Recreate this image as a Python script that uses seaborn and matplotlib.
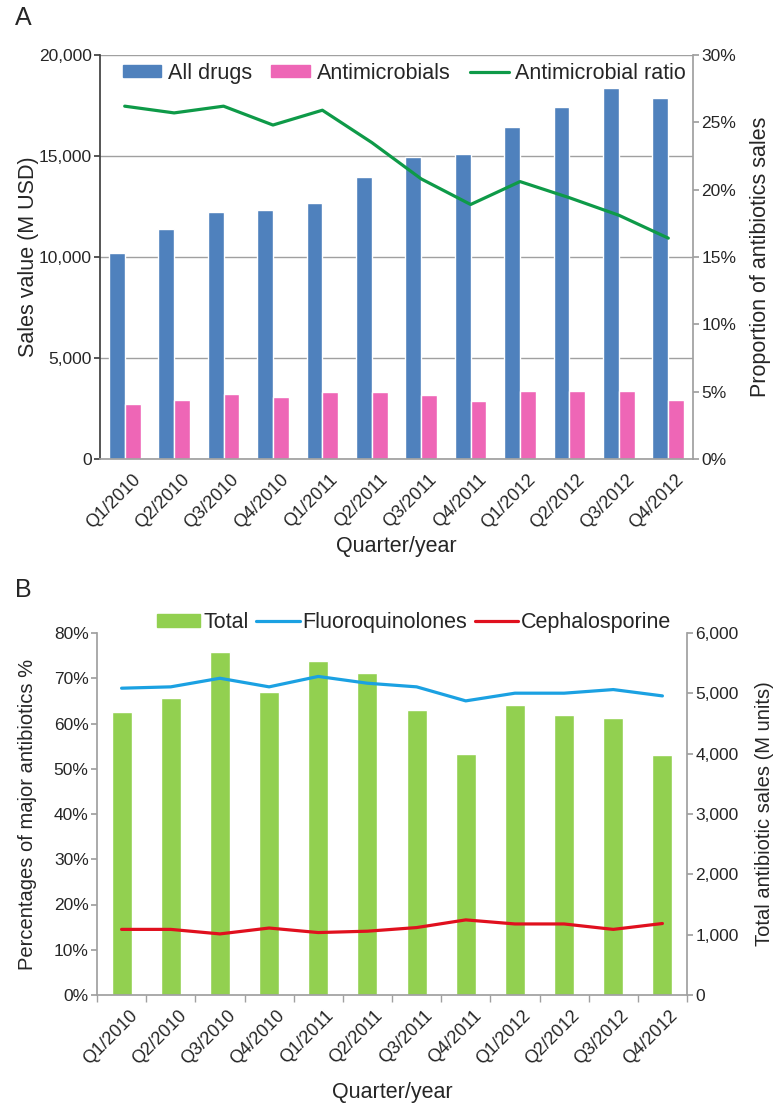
import numpy as np
import pandas as pd
import matplotlib
matplotlib.use("Agg")
import matplotlib.pyplot as plt
import matplotlib.transforms as mtransforms
import seaborn as sns
from matplotlib.ticker import FuncFormatter, FixedLocator
from matplotlib.patches import Patch
from matplotlib.lines import Line2D

quarters = ["Q1/2010", "Q2/2010", "Q3/2010", "Q4/2010", "Q1/2011", "Q2/2011",
            "Q3/2011", "Q4/2011", "Q1/2012", "Q2/2012", "Q3/2012", "Q4/2012"]

# Panel A (M USD, %)
all_drugs = [10210, 11400, 12230, 12310, 12660, 13970, 14940, 15080, 16420, 17430, 18390, 17880]
antimicrobials = [2720, 2940, 3230, 3090, 3310, 3310, 3160, 2870, 3390, 3390, 3390, 2940]
antimicrobial_ratio = [26.2, 25.7, 26.2, 24.8, 25.9, 23.5, 20.8, 18.9, 20.6, 19.4, 18.1, 16.4]

# Panel B (M units, %)
total_sales = [4690, 4930, 5680, 5020, 5530, 5330, 4720, 3990, 4800, 4640, 4590, 3975]
fluoroquinolones = [67.8, 68.1, 70.0, 68.1, 70.4, 68.9, 68.1, 65.0, 66.7, 66.7, 67.5, 66.1]
cephalosporine = [14.5, 14.5, 13.5, 14.8, 13.8, 14.1, 14.9, 16.6, 15.7, 15.7, 14.5, 15.8]

BLUE = "#4F81BD"
PINK = "#EE66B6"
GREEN_LINE = "#0E9A48"
GREEN_BAR = "#92D050"
CYAN = "#1BA1E2"
RED = "#E0101E"
GRAY = "#A0A0A0"

sns.set_theme(style="white")
plt.rcParams["font.family"] = ["Liberation Sans", "DejaVu Sans"]

fig = plt.figure(figsize=(7.84, 11.09), dpi=100)
YTICK_FS = 12.5
XTICK_FS = 13
LAB_FS = 15.5
LEG_FS = 15.5

n = len(quarters)
pos = np.arange(n)
shift = mtransforms.ScaledTranslation(7 / 100, 0, fig.dpi_scale_trans)

# ---------------- Panel A ----------------
axA = fig.add_axes([100 / 784, 1 - 459 / 1109, 593 / 784, 404 / 1109])
dfA = pd.DataFrame({
    "quarter": quarters * 2,
    "value": all_drugs + antimicrobials,
    "series": ["All drugs"] * n + ["Antimicrobials"] * n,
})
sns.barplot(data=dfA, x="quarter", y="value", hue="series", palette=[BLUE, PINK],
            width=0.64, saturation=1, ax=axA, legend=False, gap=0)
axA.set_ylim(0, 20000)
axA.set_xlim(-0.5, n - 0.5)
axA.set_yticks([0, 5000, 10000, 15000, 20000])
axA.yaxis.set_major_formatter(FuncFormatter(lambda v, p: f"{int(v):,}"))
axA.grid(axis="y", color=GRAY, lw=1)
axA.set_axisbelow(True)
for s in ["top", "right"]:
    axA.spines[s].set_visible(False)
axA.spines["left"].set_color("#404040")
axA.spines["bottom"].set_color(GRAY)
axA.tick_params(axis="y", left=True, length=4, color="#404040", labelsize=YTICK_FS, pad=2)
axA.tick_params(axis="x", bottom=False, labelsize=XTICK_FS, pad=3)
for lab in axA.get_xticklabels():
    lab.set_rotation(45)
    lab.set_ha("right")
    lab.set_va("top")
    lab.set_rotation_mode("anchor")
    lab.set_transform(lab.get_transform() + shift)
axA.set_xlabel("Quarter/year", fontsize=LAB_FS)
axA.xaxis.set_label_coords(0.5, -0.19)
axA.set_ylabel("Sales value (M USD)", fontsize=LAB_FS, labelpad=0)

axA2 = axA.twinx()
sns.lineplot(x=pos, y=antimicrobial_ratio, color=GREEN_LINE, lw=2.3, ax=axA2)
axA2.set_ylim(0, 30)
axA2.set_yticks([0, 5, 10, 15, 20, 25, 30])
axA2.yaxis.set_major_formatter(FuncFormatter(lambda v, p: f"{int(v)}%"))
for s in ["top", "left", "bottom"]:
    axA2.spines[s].set_visible(False)
axA2.spines["right"].set_color(GRAY)
axA2.tick_params(axis="y", right=True, length=4, color=GRAY, labelsize=YTICK_FS, pad=2)
axA2.set_ylabel("Proportion of antibiotics sales", fontsize=LAB_FS, labelpad=10)
axA2.grid(False)

handlesA = [Patch(color=BLUE), Patch(color=PINK), Line2D([], [], color=GREEN_LINE, lw=2.3)]
axA2.legend(handlesA, ["All drugs", "Antimicrobials", "Antimicrobial ratio"],
            loc="center", bbox_to_anchor=(0.513, 0.955), ncol=3, frameon=False,
            fontsize=LEG_FS, handlelength=1.8, handleheight=0.5, columnspacing=0.9,
            handletextpad=0.3, borderaxespad=0.0, borderpad=0.0)

fig.text(15 / 784, 1 - 18 / 1109, "A", fontsize=18, va="center", ha="left")

# ---------------- Panel B ----------------
axB = fig.add_axes([97 / 784, 1 - 995 / 1109, 590 / 784, 362 / 1109])
axB2 = axB.twinx()
sns.barplot(x=quarters, y=total_sales, color=GREEN_BAR, width=0.41, saturation=1, ax=axB2)
axB2.set_ylim(0, 6000)
axB2.set_yticks([0, 1000, 2000, 3000, 4000, 5000, 6000])
axB2.yaxis.set_major_formatter(FuncFormatter(lambda v, p: f"{int(v):,}"))
axB2.tick_params(axis="y", right=True, length=4, color=GRAY, labelsize=YTICK_FS, pad=2)
axB2.set_ylabel("Total antibiotic sales (M units)", fontsize=14.5, labelpad=12)
for s in ["top", "left", "bottom"]:
    axB2.spines[s].set_visible(False)
axB2.spines["right"].set_color(GRAY)
axB2.grid(False)

sns.lineplot(x=pos, y=fluoroquinolones, color=CYAN, lw=2.3, ax=axB)
sns.lineplot(x=pos, y=cephalosporine, color=RED, lw=2.3, ax=axB)
axB.set_zorder(axB2.get_zorder() + 1)
axB.patch.set_visible(False)
axB.set_ylim(0, 80)
axB.set_xlim(-0.5, n - 0.5)
axB2.set_xlim(-0.5, n - 0.5)
axB.set_yticks(np.arange(0, 81, 10))
axB.yaxis.set_major_formatter(FuncFormatter(lambda v, p: f"{int(v)}%"))
axB.xaxis.set_major_locator(FixedLocator(pos))
axB.set_xticklabels(quarters)
axB.xaxis.set_minor_locator(FixedLocator(np.arange(-0.5, n, 1.0)))
axB.tick_params(axis="x", which="major", bottom=True, length=0, labelsize=XTICK_FS, pad=9)
axB.tick_params(axis="x", which="minor", bottom=True, length=5, color=GRAY)
axB.tick_params(axis="y", left=True, length=4, color=GRAY, labelsize=YTICK_FS, pad=2)
for lab in axB.get_xticklabels():
    lab.set_rotation(45)
    lab.set_ha("right")
    lab.set_va("top")
    lab.set_rotation_mode("anchor")
    lab.set_transform(lab.get_transform() + shift)
for s in ["top", "right"]:
    axB.spines[s].set_visible(False)
axB.spines["left"].set_color(GRAY)
axB.spines["bottom"].set_color(GRAY)
axB.grid(False)
axB.set_xlabel("Quarter/year", fontsize=LAB_FS)
axB.xaxis.set_label_coords(0.5, -0.24)
axB.set_ylabel("Percentages of major antibiotics %", fontsize=14.5, labelpad=12)

handlesB = [Patch(color=GREEN_BAR), Line2D([], [], color=CYAN, lw=2.3),
            Line2D([], [], color=RED, lw=2.3)]
axB.legend(handlesB, ["Total", "Fluoroquinolones", "Cephalosporine"],
           loc="center", bbox_to_anchor=(0.538, 1.03), ncol=3, frameon=False,
           fontsize=LEG_FS, handlelength=2.0, handleheight=0.55, columnspacing=0.35,
           handletextpad=0.15, borderaxespad=0.0, borderpad=0.0)

fig.text(15 / 784, 1 - 590 / 1109, "B", fontsize=18, va="center", ha="left")

fig.savefig("out.png", dpi=100)
